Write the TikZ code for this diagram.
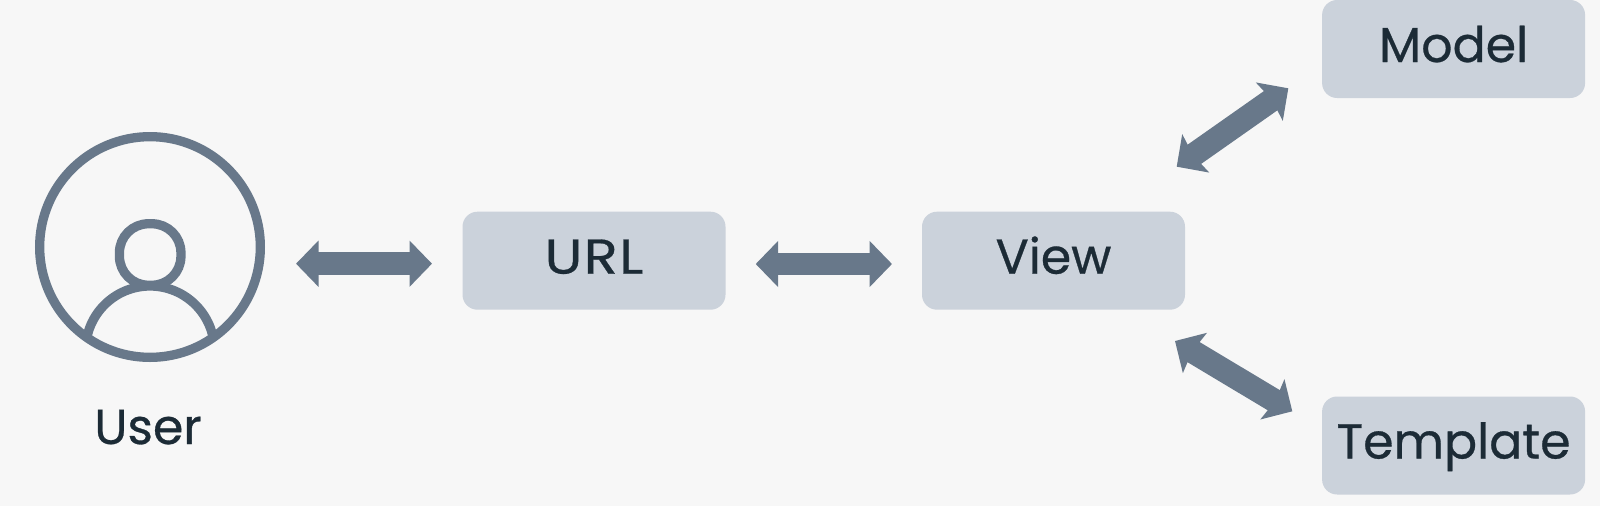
\documentclass[tikz,border=0pt]{standalone}
\usepackage{fontspec}
\setmainfont{Poppins}[FakeBold=0.6]
\usetikzlibrary{arrows.meta}
\definecolor{bgc}{HTML}{F7F7F7}
\definecolor{boxc}{HTML}{CBD2DB}
\definecolor{arrc}{HTML}{68788A}
\definecolor{txtc}{HTML}{1C2B36}
\tikzset{
  x=1pt,y=-1pt,
  boxnode/.style={fill=boxc,rounded corners=15pt,minimum width=263pt,minimum height=98pt,inner sep=0pt,
    font=\fontsize{49}{49}\selectfont,text=txtc,text height=35pt,text depth=9pt,anchor=center},
  usertext/.style={font=\fontsize{49}{49}\selectfont,text=txtc,inner sep=0pt,text height=35pt,text depth=0pt},
  iconline/.style={draw=arrc,line width=9.3pt},
  blockarrow/.style={draw=arrc,line width=22.5pt,
    {Triangle[length=22.5pt,width=45pt,color=arrc]}-{Triangle[length=22.5pt,width=45pt,color=arrc]}},
  diagarrow/.style={draw=arrc,line width=23.5pt,
    {Stealth[length=23pt,width=46pt,inset=3pt,color=arrc]}-{Stealth[length=23pt,width=46pt,inset=3pt,color=arrc]}},
}
\begin{document}
\begin{tikzpicture}
\useasboundingbox (0,0) rectangle (1600,506);
\fill[bgc] (0,0) rectangle (1600,506);
% user icon
\node[circle,iconline,minimum size=220.7pt,inner sep=0pt] (user) at (150,247) {};
\node[iconline,rounded corners=29pt,minimum width=61.5pt,minimum height=61.5pt,inner sep=0pt] (head) at (150.2,254.5) {};
\begin{scope}
\clip (150,247) circle [radius=112pt];
\node[circle,iconline,minimum size=128.8pt,inner sep=0pt] (body) at (150,350.4) {};
\end{scope}
\node[usertext] (userlabel) at (148,426.5) {User};
% boxes
\node[boxnode] (url) at (594,260.7) {\addfontfeature{FakeStretch=1.14,LetterSpace=3}URL};
\node[boxnode] (view) at (1053.5,260.7) {View};
\node[boxnode] (model) at (1453.6,49) {Model};
\node[boxnode] (template) at (1453.6,445.5) {Template};
% connector ends
\coordinate (a1) at (296,263.7);
\coordinate (a2) at (432,263.7);
\coordinate (b1) at (755.7,264);
\coordinate (b2) at (892,264);
\coordinate (c1) at (1176.7,166.7);
\coordinate (c2) at (1288.3,88.3);
\coordinate (d1) at (1175,341);
\coordinate (d2) at (1292.3,411.3);
\draw[blockarrow] (a1) -- (a2);
\draw[blockarrow] (b1) -- (b2);
\draw[diagarrow] (c1) -- (c2);
\draw[diagarrow] (d1) -- (d2);
\end{tikzpicture}
\end{document}
